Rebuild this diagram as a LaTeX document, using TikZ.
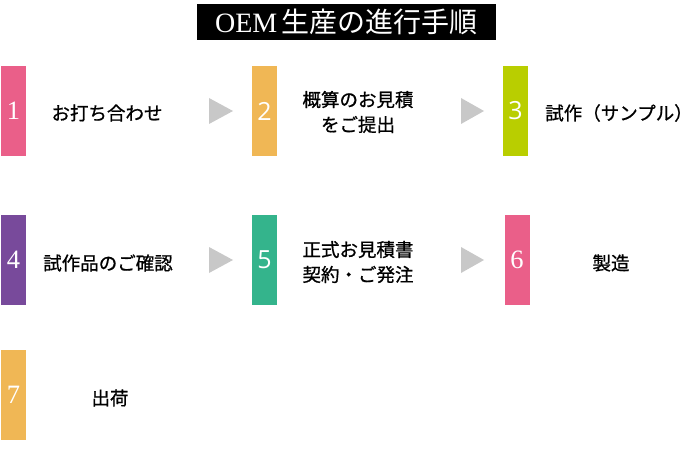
\documentclass[tikz,border=0pt]{standalone}
\usepackage{fontspec}
\setmainfont{Liberation Serif}
\newfontfamily\jpfont[FakeBold=0.9]{Noto Sans CJK JP}
\newfontfamily\jptitel{Noto Sans CJK JP}
\newfontfamily\zifferserif{Liberation Serif}
\newfontfamily\ziffersans{Open Sans}

\definecolor{rosa}{HTML}{EA5F89}
\definecolor{orange}{HTML}{F0B755}
\definecolor{lime}{HTML}{B9CE00}
\definecolor{lila}{HTML}{784A9B}
\definecolor{gruen}{HTML}{34B48C}
\definecolor{pfeilgrau}{HTML}{C8C8C8}

\begin{document}
\begin{tikzpicture}[x=1pt, y=-1pt,
  nummer/.style={minimum width=25pt, minimum height=90pt, inner sep=0pt, text=white},
  schritttext/.style={align=center, font=\jpfont\fontsize{18.5}{25}\selectfont},
  pfeil/.style={fill=pfeilgrau}]
  \useasboundingbox (0,0) rectangle (696,468);

  %--- Ueberschrift
  \node[fill=black, text=white, minimum width=299pt, minimum height=36pt, inner sep=0pt,
        font=\fontsize{28}{30}\selectfont] (titel) at (346.5,22)
        {OEM\,{\jptitel 生産の進行手順}};

  %--- Nummernfelder
  \node[nummer, fill=rosa,   font=\zifferserif\fontsize{26.5}{28}\selectfont] (n1) at (13.5,111) {1};
  \node[nummer, fill=orange, font=\ziffersans\fontsize{25}{28}\selectfont]    (n2) at (264.5,111) {2};
  \node[nummer, fill=lime,   font=\ziffersans\fontsize{25}{28}\selectfont]    (n3) at (515.5,111) {3};
  \node[nummer, fill=lila,   font=\zifferserif\fontsize{26.5}{28}\selectfont] (n4) at (13.5,260) {4};
  \node[nummer, fill=gruen,  font=\ziffersans\fontsize{25}{28}\selectfont]    (n5) at (264.5,260) {5};
  \node[nummer, fill=rosa,   font=\zifferserif\fontsize{26.5}{28}\selectfont] (n6) at (517,260) {6};
  \node[nummer, fill=orange, font=\zifferserif\fontsize{26.5}{28}\selectfont] (n7) at (13.5,395) {7};

  %--- Schritte
  \node[schritttext] (t1) at (107,113) {お打ち合わせ};
  \node[schritttext] (t2) at (358,112) {概算のお見積\\をご提出};
  \node[schritttext] (t3) at (619,113) {試作（サンプル）};
  \node[schritttext] (t4) at (108,263) {試作品のご確認};
  \node[schritttext] (t5) at (358,262) {正式お見積書\\契約・ご発注};
  \node[schritttext] (t6) at (611,263) {製造};
  \node[schritttext] (t7) at (110,398) {出荷};

  %--- Pfeile (Dreiecke)
  \fill[pfeil] (209,98)  -- (233,111) -- (209,124) -- cycle;
  \fill[pfeil] (461,98)  -- (484,111) -- (461,124) -- cycle;
  \fill[pfeil] (209,247) -- (233,260) -- (209,273) -- cycle;
  \fill[pfeil] (461,247) -- (484,260) -- (461,273) -- cycle;
\end{tikzpicture}
\end{document}
